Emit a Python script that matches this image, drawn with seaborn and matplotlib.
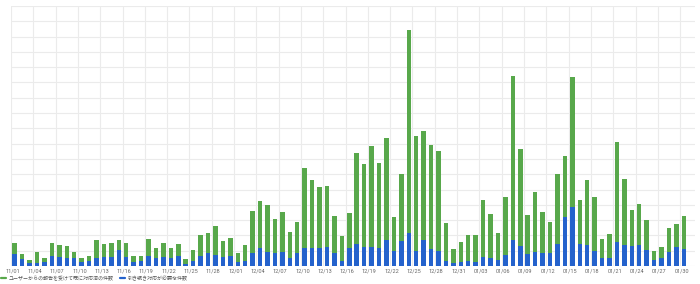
import matplotlib
matplotlib.use("Agg")
import matplotlib.pyplot as plt
from matplotlib.lines import Line2D
import seaborn as sns
import pandas as pd
import numpy as np
import datetime as dt

# ---- data ----
start = dt.date(2023, 11, 1)
dates = [(start + dt.timedelta(days=i)).strftime("%m/%d") for i in range(91)]

# blue: still needs handling (bottom segment)
pending = [7.6, 4.4, 2.2, 2.2, 2.8, 6.7, 5.9, 5.2, 5.2, 2.8,
           3.3, 5.2, 5.9, 5.9, 10.3, 5.9, 2.4, 3.3, 6.7, 5.4,
           5.9, 5.2, 6.5, 1.5, 3.3, 6.5, 8.3, 7.2, 6.1, 6.7,
           2.8, 3.3, 8.5, 11.8, 9.2, 8.5, 9.2, 5.2, 8.5, 11.8,
           11.8, 11.8, 12.4, 8.5, 3.3, 11.8, 14.4, 12.6, 12.2, 11.8,
           17.0, 9.8, 16.3, 21.4, 9.8, 17.2, 11.3, 9.8, 3.5, 1.8,
           2.4, 3.5, 2.8, 5.7, 5.2, 4.1, 7.0, 17.0, 13.1, 7.6,
           9.2, 8.5, 8.3, 14.4, 32.0, 38.4, 14.4, 13.5, 9.8, 5.2,
           5.2, 15.7, 13.7, 13.3, 13.7, 10.5, 3.7, 5.2, 9.4, 12.2,
           11.1]

# green: already handled after user reports (top segment)
handled = [7.6, 3.4, 1.7, 6.8, 2.6, 8.1, 7.8, 7.9, 4.0, 2.2,
           3.2, 11.8, 8.3, 9.3, 6.5, 8.9, 4.1, 3.2, 11.0, 6.6,
           8.9, 6.8, 7.7, 3.3, 7.4, 13.6, 13.1, 18.8, 10.2, 11.6,
           5.9, 10.4, 27.5, 30.9, 30.7, 22.2, 26.1, 17.0, 20.3, 52.5,
           44.4, 39.9, 40.1, 24.2, 16.5, 22.9, 59.3, 54.1, 66.1, 55.3,
           66.7, 22.2, 43.9, 132.7, 75.2, 70.9, 67.6, 65.4, 24.8, 9.3,
           13.1, 17.0, 17.7, 37.5, 28.8, 17.3, 38.1, 107.0, 63.2, 25.7,
           39.0, 26.6, 20.7, 45.6, 39.7, 85.0, 28.6, 42.9, 35.3, 12.5,
           15.5, 65.4, 43.2, 23.5, 26.8, 19.6, 6.1, 7.4, 15.3, 15.3,
           21.4]

series_labels = ["ユーザーからの報告を受けて既に対応済の件数", "引き続き対応が必要な件数"]
GREEN = "#58a84b"
BLUE = "#2462cc"

df = pd.DataFrame({"date": dates, "pending": pending, "handled": handled})
df["stack_top"] = df["pending"] + df["handled"]

sns.set_theme(style="white")
plt.rcParams["font.family"] = ["Noto Sans CJK JP", "DejaVu Sans"]

fig = plt.figure(figsize=(7.0, 2.84), dpi=100)
ax = fig.add_axes([11 / 700, 18 / 284, 684 / 700, 260 / 284])

sns.barplot(data=df, x="date", y="stack_top", color=GREEN, width=0.6,
            saturation=1, ax=ax, zorder=3, linewidth=0)
sns.barplot(data=df, x="date", y="pending", color=BLUE, width=0.6,
            saturation=1, ax=ax, zorder=4, linewidth=0)

ax.set_xlim(-0.5, 91.5)
ax.set_ylim(0, 170)

# grid
for y in range(0, 171, 10):
    ax.axhline(y, color="#ebebeb", lw=0.8, zorder=0)
for i in range(0, 91, 3):
    ax.axvline(i - 0.5, color="#ebebeb", lw=0.8, zorder=0)

ax.set_yticks([])
ticks = list(range(0, 91, 3))
ax.set_xticks([t - 0.3 for t in ticks])
ax.set_xticklabels([dates[t] for t in ticks], fontsize=4.0, color="#666666",
                   family=["Roboto", "DejaVu Sans"])
ax.tick_params(axis="x", length=0, pad=1.5)
ax.set_xlabel("")
ax.set_ylabel("")
for s in ax.spines.values():
    s.set_visible(False)

handles = [Line2D([0], [0], color=GREEN, lw=1.6),
           Line2D([0], [0], color=BLUE, lw=1.6)]
fig.legend(handles, series_labels, loc="center left",
           bbox_to_anchor=(0.0, 6 / 284), ncol=2, frameon=False,
           fontsize=3.6, handlelength=1.0, handletextpad=0.5,
           columnspacing=1.3, borderaxespad=0, borderpad=0.2,
           labelcolor="#555555")

fig.savefig("out.png", dpi=100)
